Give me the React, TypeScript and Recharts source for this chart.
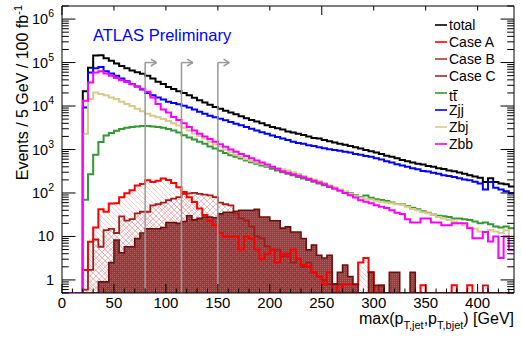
import { Area, ComposedChart, Line, ReferenceLine, XAxis, YAxis } from "recharts";

const FONT = "'Liberation Sans', Arial, Helvetica, sans-serif";
const W = 522;
const H = 341;
const BIN = 5; // GeV per bin
const X_MAX = 435;
const Y_MIN = 0.5;
const Y_MAX = 2e6;

// events / 5 GeV / 100 fb^-1, one value per bin, first bin starts at 0 GeV
const total = [0, 0, 0, 0, 22000, 76000, 145000, 148000, 126000, 110000, 95000, 83000, 74000, 66000, 60000, 55000, 50000, 43000, 36000, 32000, 27500, 24500, 22000, 20000, 17800, 15500, 13500, 12000, 10700, 9500, 8700, 7800, 7100, 6500, 5800, 5200, 4800, 4400, 4000, 3600, 3300, 3100, 2900, 2600, 2450, 2300, 2150, 2000, 1850, 1780, 1660, 1550, 1450, 1350, 1290, 1200, 1120, 1050, 980, 910, 850, 790, 720, 680, 630, 575, 540, 500, 470, 450, 420, 400, 370, 355, 330, 316, 295, 275, 257, 240, 224, 178, 219, 178, 166, 158, 141];
const caseA = [0, 0, 0, 0, 1.7, 7.5, 16, 42, 37, 57, 58, 80, 98, 115, 148, 160, 195, 178, 190, 215, 200, 170, 135, 105, 80, 62, 44, 31, 23, 18, 12, 10, 10, 10, 5, 10, 9, 5, 3, 4, 5, 2.5, 4, 3.5, 5, 3, 2.2, 2, 1.5, 1.2, 0.8, 1.5, 0.8, 0, 0.8, 0.8, 0.75, 2.5, 3.2, 1.5, 0, 0, 0, 0, 0, 0, 0, 0, 0, 0.75, 0, 0, 0, 0, 0, 0.75, 0, 0, 0.75, 0, 0, 0, 0, 0, 0, 0, 0];
const caseB = [0, 0, 0, 0, 0.6, 1.7, 8.5, 5.8, 14, 15, 12, 29, 23, 25, 34, 37, 37, 52, 55, 60, 68, 74, 80, 95, 98, 100, 95, 92, 88, 80, 60, 55, 52, 34, 26, 23, 17, 10, 9, 6, 5, 5, 3.5, 4, 2.5, 3, 2, 2.5, 1.5, 1.2, 1, 0.8, 0, 0.8, 0, 0, 0, 0, 0, 0, 0, 0.75, 0, 0, 0, 0, 0, 0, 0, 0, 0, 0, 0, 0, 0, 0, 0, 0, 0, 0, 0, 0.75, 0, 0, 0, 0, 0];
const caseC = [0, 0, 0, 0, 0, 0, 0, 0.9, 0.9, 2.5, 8.3, 4.2, 5.8, 5.8, 9, 12, 15, 15, 15, 16, 21, 21, 20, 22, 30, 24, 26, 28, 28, 27, 33, 36, 36, 38, 40, 40, 40, 42, 28, 28, 23, 23, 15.5, 16.6, 12.7, 12.7, 9, 4.9, 6.3, 3.7, 3.2, 3.7, 0.8, 1.5, 2.2, 1.2, 0.8, 0, 0, 1.5, 0.75, 0.75, 0, 1.5, 1.5, 0, 0, 1.5, 0, 0, 0, 0, 0, 0, 0, 0, 0, 0, 0, 0, 0, 0, 0, 0, 0, 0, 0];
const ttbar = [0, 0, 0, 0, 70, 270, 760, 1480, 2100, 2400, 2700, 2950, 3160, 3300, 3400, 3470, 3470, 3400, 3300, 3160, 2950, 2750, 2450, 2140, 1900, 1700, 1510, 1350, 1170, 1050, 930, 830, 740, 680, 620, 560, 510, 470, 430, 400, 360, 330, 300, 275, 257, 234, 214, 200, 182, 166, 151, 138, 126, 117, 107, 98, 89, 81, 87, 78, 72, 69, 65, 60, 56, 55, 50, 46, 42, 38, 35, 32, 30, 29, 28, 26, 26, 25, 24, 22, 20, 21, 19, 17, 16, 17, 15.5];
const zjj = [0, 0, 0, 0, 9300, 59000, 74000, 79000, 63000, 56000, 50000, 43000, 37000, 32000, 28000, 24000, 20000, 17800, 15800, 14100, 12600, 11700, 11000, 10200, 9300, 8300, 7400, 6600, 6000, 5500, 5100, 4700, 4300, 3900, 3600, 3300, 3000, 2750, 2500, 2300, 2100, 1950, 1780, 1660, 1510, 1410, 1350, 1260, 1200, 1120, 1070, 1020, 980, 930, 890, 850, 790, 760, 710, 680, 630, 590, 540, 500, 460, 430, 400, 370, 350, 320, 310, 290, 275, 257, 245, 234, 219, 204, 195, 182, 166, 120, 178, 132, 120, 110, 100];
const zbj = [0, 0, 0, 0, 2300, 14500, 20400, 19000, 17800, 15800, 14500, 12600, 11200, 10000, 8700, 7600, 6600, 6000, 5500, 5000, 4500, 4000, 3550, 3160, 2750, 2340, 2040, 1780, 1510, 1320, 1150, 1000, 870, 760, 680, 600, 550, 500, 470, 430, 400, 370, 350, 330, 300, 275, 245, 224, 204, 186, 170, 151, 135, 120, 107, 95, 85, 79, 74, 71, 66, 63, 60, 58, 55, 54, 48, 43, 40, 36, 34, 32, 28, 26, 24, 22, 20, 18, 16, 15, 13, 12.6, 14, 13, 12, 13.8, 10];
const zbb = [0, 0, 0, 0, 13200, 35000, 59000, 63000, 56000, 50000, 44000, 39000, 35500, 31600, 28000, 25000, 21400, 15800, 11200, 8300, 7100, 5600, 4800, 4000, 3300, 2750, 2300, 2000, 1740, 1510, 1320, 1150, 1000, 890, 790, 710, 630, 560, 500, 450, 400, 360, 316, 290, 270, 250, 230, 210, 190, 174, 158, 141, 126, 112, 100, 89, 79, 68, 63, 58, 52, 48, 45, 40, 35, 33, 25, 21, 21, 26, 26, 21, 21, 18, 18, 20, 20, 20, 15.5, 9.1, 9.1, 12.6, 7.6, 10, 3.2, 10, 4.9];

// selection cuts (GeV), drawn as arrows
const cuts = [80, 115, 150];
const ARROW_TOP = 1e5;
const ARROW_LEN = 11;
const ARROW_HEAD = 5.5;

const C_A = "#ff0000";
const C_B = "#a51c1c";
const C_C = "#6e0f0f";
const C_TT = "#339933";
const C_ZJJ = "#0000ff";
const C_ZBJ = "#d6cb8a";
const C_ZBB = "#ff00ff";

// empty bins sit on the bottom of the frame, like ROOT draws them
const atFloor = (v: number) => (v > 0 ? v : Y_MIN);

const rows = total.map((_, i) => ({
  x: i * BIN,
  total: atFloor(total[i]),
  caseA: atFloor(caseA[i]),
  caseB: atFloor(caseB[i]),
  caseC: atFloor(caseC[i]),
  ttbar: atFloor(ttbar[i]),
  zjj: atFloor(zjj[i]),
  zbj: atFloor(zbj[i]),
  zbb: atFloor(zbb[i]),
}));
const data = [...rows, { ...rows[rows.length - 1], x: X_MAX }];

const xTicks: number[] = [];
for (let v = 0; v <= 430; v += 10) xTicks.push(v);

const yTicks: number[] = [];
for (let d = -1; d <= 6; d++) {
  for (let k = 1; k <= 9; k++) {
    const v = d < 0 ? k / 10 : k * 10 ** d;
    if (v >= Y_MIN && v <= Y_MAX) yTicks.push(v);
  }
}

function decade(v: number): number | null {
  const e = Math.round(Math.log10(v));
  return Math.abs(10 ** e - v) < 1e-9 * v && e >= 0 ? e : null;
}

function BottomTick({ x, y, payload }: any) {
  const major = payload.value % 50 === 0;
  return (
    <g>
      <line x1={x} y1={y} x2={x} y2={y - (major ? 9 : 4.5)} stroke="#000" />
      {major && (
        <text x={x} y={y + 15} textAnchor="middle" fontSize={15} fontFamily={FONT} fill="#000">
          {payload.value}
        </text>
      )}
    </g>
  );
}

function TopTick({ x, y, payload }: any) {
  const major = payload.value % 50 === 0;
  return <line x1={x} y1={y} x2={x} y2={y + (major ? 9 : 4.5)} stroke="#000" />;
}

function LeftTick({ x, y, payload }: any) {
  const e = decade(payload.value);
  return (
    <g>
      <line x1={x} y1={y} x2={x + (e !== null ? 13.5 : 6.8)} y2={y} stroke="#000" />
      {e !== null && (
        <text x={x - 8} y={y + 5} textAnchor="end" fontSize={14.5} fontFamily={FONT} fill="#000">
          {e === 0 ? "1" : "10"}
          {e >= 2 && (
            <tspan dy={-7} fontSize={10.5}>
              {e}
            </tspan>
          )}
        </text>
      )}
    </g>
  );
}

function RightTick({ x, y, payload }: any) {
  const e = decade(payload.value);
  return <line x1={x} y1={y} x2={x - (e !== null ? 13.5 : 6.8)} y2={y} stroke="#000" />;
}

const legendItems = [
  { label: "total", color: "#000000" },
  { label: "Case A", color: C_A },
  { label: "Case B", color: "#b03535" },
  { label: "Case C", color: "#8b3333" },
  { label: "tt", color: C_TT },
  { label: "Zjj", color: C_ZJJ },
  { label: "Zbj", color: C_ZBJ },
  { label: "Zbb", color: C_ZBB },
];

const bgLines = [
  { key: "total", color: "#000000" },
  { key: "ttbar", color: C_TT },
  { key: "zjj", color: C_ZJJ },
  { key: "zbj", color: C_ZBJ },
  { key: "zbb", color: C_ZBB },
];

export default function App() {
  const arrowStyle = { stroke: "#9a9a9a", strokeWidth: 1.5, ifOverflow: "visible" as const };
  return (
    <div style={{ position: "fixed", left: 0, top: 0, width: W, height: H, background: "#fff" }}>
      <ComposedChart width={W} height={H} data={data} margin={{ top: 0, right: 0, bottom: 0, left: 0 }}>
        <defs>
          <pattern id="hatchA" width="5" height="5" patternUnits="userSpaceOnUse">
            <path d="M-1,-1 L6,6 M-1,4 L1,6 M4,-1 L6,1" stroke="#ff8a8a" strokeWidth={0.7} />
          </pattern>
          <pattern id="crossB" width="6" height="6" patternUnits="userSpaceOnUse">
            <path d="M0,0 L6,6 M6,0 L0,6" stroke="#dd6a6a" strokeWidth={0.7} />
          </pattern>
          <pattern id="solidC" width="2" height="2" patternUnits="userSpaceOnUse">
            <rect width="2" height="2" fill="#7a1616" />
            <rect width="1" height="1" fill="#9c4040" />
          </pattern>
        </defs>
        <XAxis
          dataKey="x"
          type="number"
          domain={[0, X_MAX]}
          ticks={xTicks}
          interval={0}
          allowDataOverflow
          height={48}
          tickSize={0}
          tickMargin={0}
          tickLine={false}
          axisLine={{ stroke: "#000" }}
          tick={BottomTick}
        />
        <XAxis
          xAxisId="top"
          orientation="top"
          type="number"
          domain={[0, X_MAX]}
          ticks={xTicks}
          interval={0}
          allowDataOverflow
          height={6}
          tickSize={0}
          tickMargin={0}
          tickLine={false}
          axisLine={{ stroke: "#000" }}
          tick={TopTick}
        />
        <YAxis
          type="number"
          scale="log"
          domain={[Y_MIN, Y_MAX]}
          ticks={yTicks}
          interval={0}
          allowDataOverflow
          width={62}
          tickSize={0}
          tickMargin={0}
          tickLine={false}
          axisLine={{ stroke: "#000" }}
          tick={LeftTick}
        />
        <YAxis
          yAxisId="right"
          orientation="right"
          type="number"
          scale="log"
          domain={[Y_MIN, Y_MAX]}
          ticks={yTicks}
          interval={0}
          allowDataOverflow
          width={8}
          tickSize={0}
          tickMargin={0}
          tickLine={false}
          axisLine={{ stroke: "#000" }}
          tick={RightTick}
        />

        <Area type="stepAfter" dataKey="caseA" stroke="none" fill="url(#hatchA)" baseValue={Y_MIN} dot={false} activeDot={false} isAnimationActive={false} />
        <Area type="stepAfter" dataKey="caseB" stroke="none" fill="url(#crossB)" baseValue={Y_MIN} dot={false} activeDot={false} isAnimationActive={false} />
        <Line type="stepAfter" dataKey="caseB" stroke={C_B} strokeWidth={1.8} dot={false} activeDot={false} isAnimationActive={false} />
        <Line type="stepAfter" dataKey="caseA" stroke={C_A} strokeWidth={2} dot={false} activeDot={false} isAnimationActive={false} />
        <Area type="stepAfter" dataKey="caseC" stroke="none" fill="url(#solidC)" fillOpacity={0.82} baseValue={Y_MIN} dot={false} activeDot={false} isAnimationActive={false} />
        <Line type="stepAfter" dataKey="caseC" stroke={C_C} strokeWidth={1.6} dot={false} activeDot={false} isAnimationActive={false} />

        {bgLines.map((s) => (
          <Line
            key={s.key}
            type="stepAfter"
            dataKey={s.key}
            stroke={s.color}
            strokeWidth={2}
            dot={false}
            activeDot={false}
            isAnimationActive={false}
          />
        ))}

        {cuts.map((c) => (
          <ReferenceLine key={`v${c}`} segment={[{ x: c, y: Y_MIN }, { x: c, y: ARROW_TOP }]} {...arrowStyle} />
        ))}
        {cuts.map((c) => (
          <ReferenceLine key={`h${c}`} segment={[{ x: c, y: ARROW_TOP }, { x: c + ARROW_LEN, y: ARROW_TOP }]} {...arrowStyle} />
        ))}
        {cuts.map((c) => (
          <ReferenceLine key={`u${c}`} segment={[{ x: c + ARROW_LEN - ARROW_HEAD, y: ARROW_TOP * 1.2 }, { x: c + ARROW_LEN, y: ARROW_TOP }]} {...arrowStyle} />
        ))}
        {cuts.map((c) => (
          <ReferenceLine key={`d${c}`} segment={[{ x: c + ARROW_LEN - ARROW_HEAD, y: ARROW_TOP / 1.2 }, { x: c + ARROW_LEN, y: ARROW_TOP }]} {...arrowStyle} />
        ))}
      </ComposedChart>

      <svg width={W} height={H} style={{ position: "absolute", left: 0, top: 0, pointerEvents: "none" }} fontFamily={FONT}>
        <text x={93} y={41} fontSize={16.5} fill="#0000ff">
          ATLAS Preliminary
        </text>
        <text transform="translate(28, 5) rotate(-90)" textAnchor="end" fontSize={16} fill="#000">
          Events / 5 GeV / 100 fb
          <tspan dy={-6} fontSize={11}>
            -1
          </tspan>
        </text>
        <text x={514} y={324} textAnchor="end" fontSize={16} fill="#000">
          max(p
          <tspan dy={5} fontSize={11}>T,jet</tspan>
          <tspan dy={-5}>,p</tspan>
          <tspan dy={5} fontSize={11}>T,bjet</tspan>
          <tspan dy={-5}>) [GeV]</tspan>
        </text>
        {legendItems.map((it, i) => {
          const y = 25 + 17 * i;
          const isTT = it.label === "tt";
          return (
            <g key={it.label}>
              <line x1={435} x2={447} y1={y} y2={y} stroke={it.color} strokeWidth={1.6} />
              <text x={449} y={isTT ? y + 7.5 : y + 5} fontSize={14} fill="#000">
                {it.label}
              </text>
              {isTT && <line x1={453} x2={458} y1={y - 2.5} y2={y - 2.5} stroke="#000" strokeWidth={1} />}
            </g>
          );
        })}
      </svg>
    </div>
  );
}
